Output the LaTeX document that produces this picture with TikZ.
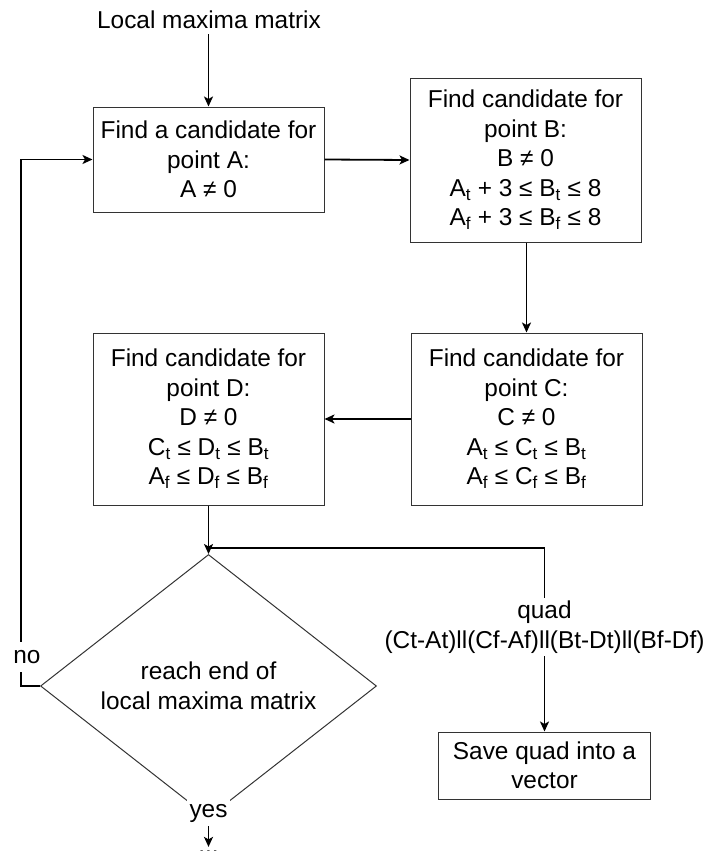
\documentclass[tikz,border=0pt]{standalone}
\usepackage{fontspec}
\setmainfont{Liberation Sans}
\usetikzlibrary{shapes.geometric,arrows.meta}
\begin{document}
\begin{tikzpicture}[x=1pt,y=-1pt,
  font=\fontsize{24.4}{29.5}\selectfont,
  box/.style={draw=black!80,line width=1pt,rectangle,align=center,inner sep=0pt},
  conn/.style={line width=1.8pt,-{Stealth[length=10pt,width=9pt,inset=2.5pt]}},
  lbl/.style={fill=white,inner sep=3pt,text height=18pt,text depth=6pt},
  mlbl/.style={fill=white,inner sep=3pt,align=center}]
\useasboundingbox (0,0) rectangle (705,851);
\node[inner sep=5pt] (top) at (209,20) {Local maxima matrix};
\node[box,minimum width=231pt,minimum height=105pt] (A) at (208.5,159.5)
  {Find a candidate for\\point A:\\A ≠ 0};
\node[box,minimum width=231pt,minimum height=164pt] (B) at (525.5,160)
  {Find candidate for\\point B:\\B ≠ 0\\A\textsubscript{t} + 3 ≤ B\textsubscript{t} ≤ 8\\A\textsubscript{f} + 3 ≤ B\textsubscript{f} ≤ 8};
\node[box,minimum width=231pt,minimum height=172pt] (C) at (526.5,419)
  {Find candidate for\\point C:\\C ≠ 0\\A\textsubscript{t} ≤ C\textsubscript{t} ≤ B\textsubscript{t}\\A\textsubscript{f} ≤ C\textsubscript{f} ≤ B\textsubscript{f}};
\node[box,minimum width=231pt,minimum height=172pt] (D) at (208.5,419)
  {Find candidate for\\point D:\\D ≠ 0\\C\textsubscript{t} ≤ D\textsubscript{t} ≤ B\textsubscript{t}\\A\textsubscript{f} ≤ D\textsubscript{f} ≤ B\textsubscript{f}};
\node[diamond,draw=black!80,line width=1pt,inner sep=0pt,align=center,
  minimum width=336pt,minimum height=177pt] (dia) at (208.5,686)
  {reach end of\\local maxima matrix};
\node[box,minimum width=212pt,minimum height=67pt] (save) at (544.5,765.5)
  {Save quad into a\\vector};
\node[inner sep=0pt,outer sep=3.5pt,anchor=base] (end) at (208.5,853) {...};
\coordinate (j) at (208.5,548);
\coordinate (nol) at (21,686);
% connectors
\draw[conn] (top.south -| A.north) -- (A.north);
\draw[conn] (A.east) -- (B.west);
\draw[conn] (B.south -| C.north) -- (C.north);
\draw[conn] (C.west) -- (C.west -| D.east);
\draw[conn] (D.south) -- (dia.north);
\draw[conn] (j) -| (save.north);
\draw[conn] (dia.west) -- (nol) |- (A.west);
\draw[conn] (dia.south) -- (end.north);
% labels on connectors
\node[lbl] (no) at (27,657) {no};
\node[lbl] (yes) at (208.5,811) {yes};
\node[mlbl] (q) at (544.5,627) {quad\\(Ct-At)ll(Cf-Af)ll(Bt-Dt)ll(Bf-Df)};
\end{tikzpicture}
\end{document}
